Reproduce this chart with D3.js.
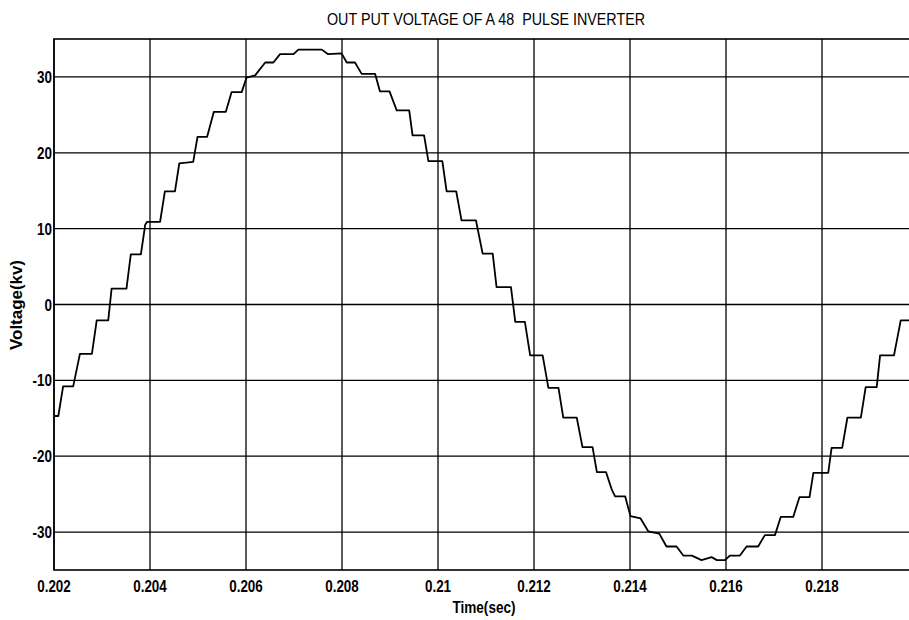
<!DOCTYPE html>
<html>
<head>
<meta charset="utf-8">
<script src="https://cdn.jsdelivr.net/npm/d3@7"></script>
<style>
  body { margin: 0; background: #fff; }
  text { font-family: "Liberation Sans", Arial, sans-serif; fill: #000; }
</style>
</head>
<body>
<div id="chart"></div>
<script>
// values
const timeSec = [
  0.20200, 0.20209, 0.20219, 0.20240, 0.20254, 0.20279, 0.20289, 0.20313, 0.20320, 0.20351,
  0.20360, 0.20381, 0.20390, 0.20394, 0.20421, 0.20431, 0.20452, 0.20461, 0.20490, 0.20499,
  0.20519, 0.20533, 0.20558, 0.20570, 0.20591, 0.20601, 0.20619, 0.20640, 0.20657, 0.20671,
  0.20699, 0.20709, 0.20758, 0.20771, 0.20799, 0.20810, 0.20827, 0.20841, 0.20869, 0.20879,
  0.20899, 0.20914, 0.20940, 0.20947, 0.20971, 0.20980, 0.21009, 0.21018, 0.21038, 0.21049,
  0.21079, 0.21093, 0.21114, 0.21122, 0.21152, 0.21161, 0.21181, 0.21192, 0.21218, 0.21230,
  0.21251, 0.21261, 0.21289, 0.21301, 0.21322, 0.21331, 0.21350, 0.21362, 0.21369, 0.21390,
  0.21401, 0.21422, 0.21438, 0.21461, 0.21476, 0.21497, 0.21511, 0.21529, 0.21549, 0.21570,
  0.21581, 0.21598, 0.21608, 0.21629, 0.21643, 0.21667, 0.21681, 0.21702, 0.21714, 0.21740,
  0.21753, 0.21774, 0.21782, 0.21813, 0.21820, 0.21842, 0.21853, 0.21881, 0.21891, 0.21914,
  0.21921, 0.21950, 0.21964, 0.21995
];
const voltageKv = [
  -14.7, -14.7, -10.8, -10.8, -6.5, -6.5, -2.1, -2.1, 2.1, 2.1,
  6.6, 6.6, 10.5, 10.9, 10.9, 14.9, 14.9, 18.6, 18.8, 22.1,
  22.1, 25.4, 25.4, 28.0, 28.0, 29.9, 30.2, 31.9, 31.9, 33.0,
  33.0, 33.6, 33.6, 33.0, 33.1, 31.9, 31.9, 30.4, 30.4, 28.1,
  28.1, 25.6, 25.6, 22.3, 22.3, 18.9, 18.9, 14.9, 14.9, 11.1,
  11.1, 6.7, 6.7, 2.3, 2.3, -2.3, -2.3, -6.7, -6.7, -11.0,
  -11.0, -14.9, -14.9, -18.8, -18.8, -22.1, -22.1, -24.4, -25.3, -25.3,
  -27.9, -28.2, -29.9, -30.2, -31.9, -31.9, -33.1, -33.1, -33.7, -33.3,
  -33.7, -33.7, -33.1, -33.1, -31.9, -31.9, -30.4, -30.4, -28.0, -28.0,
  -25.4, -25.4, -22.2, -22.2, -18.9, -18.9, -14.9, -14.9, -10.9, -10.9,
  -6.7, -6.7, -2.1, -2.1
];
const xTicks = [0.202, 0.204, 0.206, 0.208, 0.21, 0.212, 0.214, 0.216, 0.218];
const xTickLabels = ["0.202", "0.204", "0.206", "0.208", "0.21", "0.212", "0.214", "0.216", "0.218"];
const yTicks = [-30, -20, -10, 0, 10, 20, 30];

const margin = {top: 39, left: 54};
const plotW = 864, plotH = 531;
const squeeze = 0.84; // scanned font is condensed

const svg = d3.select("#chart").append("svg")
    .attr("width", 909)
    .attr("height", 620);

const g = svg.append("g")
    .attr("transform", `translate(${margin.left}, ${margin.top})`);

const x = d3.scaleLinear().domain([0.202, 0.22]).range([0, plotW]);
const y = d3.scaleLinear().domain([-35, 35]).range([plotH, 0]);

// grid
g.selectAll(".vgrid").data(xTicks).join("line")
    .attr("x1", d => x(d)).attr("x2", d => x(d))
    .attr("y1", 0).attr("y2", plotH)
    .attr("stroke", "#000").attr("stroke-width", 1.3);
g.selectAll(".hgrid").data(yTicks).join("line")
    .attr("x1", 0).attr("x2", plotW)
    .attr("y1", d => y(d)).attr("y2", d => y(d))
    .attr("stroke", "#000").attr("stroke-width", 1.3);

// frame
g.append("rect")
    .attr("width", plotW).attr("height", plotH)
    .attr("fill", "none").attr("stroke", "#000").attr("stroke-width", 1.6);

// tick labels
g.selectAll(".xlab").data(xTicks).join("text")
    .attr("transform", d => `translate(${x(d)}, ${plotH + 22}) scale(${squeeze}, 1)`)
    .attr("text-anchor", "middle")
    .style("font-size", "16px")
    .style("font-weight", "bold")
    .text((d, i) => xTickLabels[i]);
g.selectAll(".ylab").data(yTicks).join("text")
    .attr("transform", d => `translate(-2, ${y(d) + 6}) scale(${squeeze}, 1)`)
    .attr("text-anchor", "end")
    .style("font-size", "16px")
    .style("font-weight", "bold")
    .text(d => d);

// trace
const pts = timeSec.map((t, i) => ({t: t, v: voltageKv[i]}));
g.append("path")
    .datum(pts)
    .attr("fill", "none")
    .attr("stroke", "#000")
    .attr("stroke-width", 1.8)
    .attr("stroke-linejoin", "round")
    .attr("d", d3.line().x(d => x(d.t)).y(d => y(d.v)));

// titles
svg.append("text")
    .attr("x", 486).attr("y", 25)
    .attr("text-anchor", "middle")
    .attr("textLength", 318)
    .attr("lengthAdjust", "spacingAndGlyphs")
    .style("font-size", "17px")
    .style("white-space", "pre")
    .text("OUT PUT VOLTAGE OF A 48  PULSE INVERTER");
svg.append("text")
    .attr("x", 484).attr("y", 613)
    .attr("text-anchor", "middle")
    .attr("textLength", 63)
    .attr("lengthAdjust", "spacingAndGlyphs")
    .style("font-size", "17px")
    .style("font-weight", "bold")
    .text("Time(sec)");
svg.append("text")
    .attr("transform", "translate(22, 305) rotate(-90)")
    .attr("text-anchor", "middle")
    .attr("textLength", 90)
    .attr("lengthAdjust", "spacingAndGlyphs")
    .style("font-size", "17px")
    .style("font-weight", "bold")
    .text("Voltage(kv)");
</script>
</body>
</html>
